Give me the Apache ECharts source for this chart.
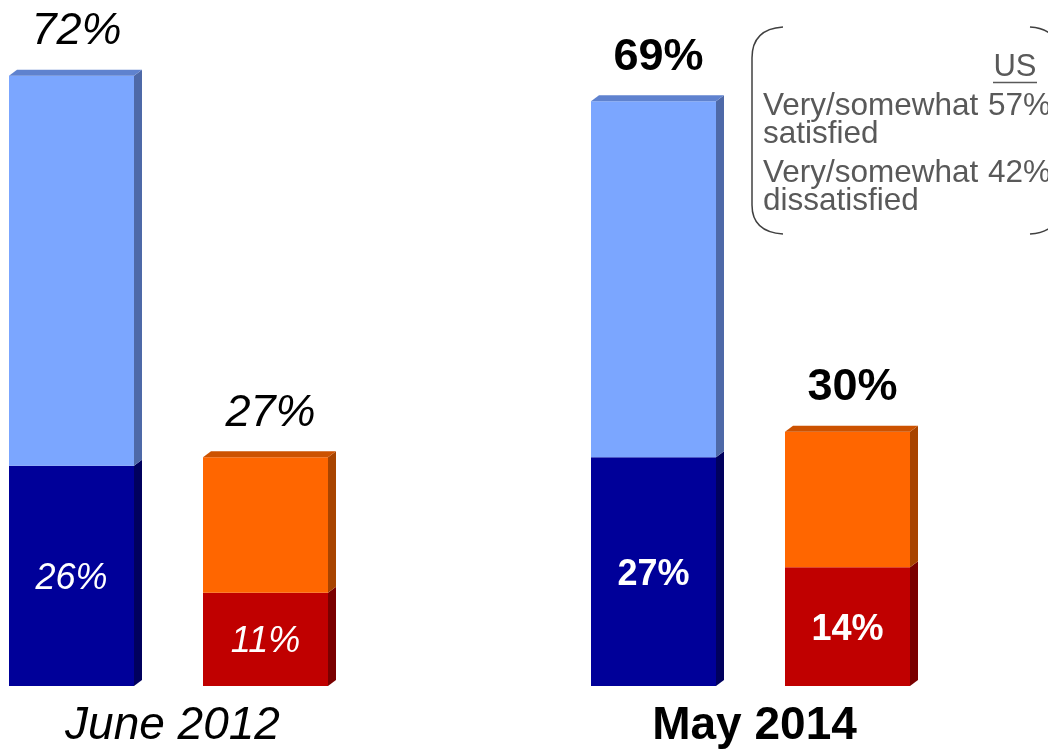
<!DOCTYPE html>
<html><head><meta charset="utf-8">
<script src="https://cdn.jsdelivr.net/npm/echarts@6/dist/echarts.min.js"></script>
<style>html,body{margin:0;padding:0;background:#fff}#c{width:1048px;height:750px}</style>
</head><body><div id="c"></div>
<script>
// ---- data ----
const categories = ['June 2012 satisfied', 'June 2012 dissatisfied', '', 'May 2014 satisfied', 'May 2014 dissatisfied'];
const totals = [72, 27, null, 69, 30];          // very + somewhat
const strong = [26, 11, null, 27, 14];          // "very" part (bottom segment)
const kinds = ['sat', 'dis', null, 'sat', 'dis'];
const groupOf = [0, 0, null, 1, 1];
const groupLabels = ['June 2012', 'May 2014'];
const usLabels = ['Very/somewhat\nsatisfied', 'Very/somewhat\ndissatisfied'];
const usValues = ['57%', '42%'];

// ---- styles ----
const colors = {
  sat: { top: { front: '#7BA6FF', side: '#4E69A8', cap: '#5F82CF' }, bottom: { front: '#000099', side: '#00005E' } },
  dis: { top: { front: '#FF6600', side: '#A84400', cap: '#CC5200' }, bottom: { front: '#C00000', side: '#7A0000' } }
};
const groupFont = [{ fontStyle: 'italic', fontWeight: 'normal' }, { fontStyle: 'normal', fontWeight: 'bold' }];
const FONT = 'Liberation Sans, Arial, sans-serif';
const BAR_W = 125, DX = 8, DY = 6;

function build(layer) {
  const d = [];
  categories.forEach((c, i) => {
    if (totals[i] == null) return;
    if (layer === 0) d.push([i, 0, strong[i]]);
    else d.push([i, strong[i], totals[i]]);
  });
  return d;
}

function renderer(layer) {
  return function (params, api) {
    const idx = api.value(0), lo = api.value(1), hi = api.value(2);
    const pLo = api.coord([idx, lo]), pHi = api.coord([idx, hi]);
    const x0 = pLo[0] - BAR_W / 2, x1 = x0 + BAR_W;
    const yT = pHi[1], yB = pLo[1];
    const k = kinds[idx];
    const col = colors[k][layer === 0 ? 'bottom' : 'top'];
    const g = groupFont[groupOf[idx]];
    const children = [
      { type: 'polygon', shape: { points: [[x1, yB], [x1 + DX, yB - DY], [x1 + DX, yT - DY], [x1, yT]] }, style: { fill: col.side } },
      { type: 'rect', shape: { x: x0, y: yT, width: BAR_W, height: yB - yT }, style: { fill: col.front } }
    ];
    if (layer === 1) {
      children.push({ type: 'polygon', shape: { points: [[x0, yT], [x0 + DX, yT - DY], [x1 + DX, yT - DY], [x1, yT]] }, style: { fill: col.cap } });
      children.push({ type: 'text', style: { text: totals[idx] + '%', x: pLo[0] + 5, y: yT - 44, align: 'center', verticalAlign: 'middle',
        fill: '#000', font: g.fontStyle + ' ' + g.fontWeight + ' 45px ' + FONT } });
    } else {
      children.push({ type: 'text', style: { text: strong[idx] + '%', x: pLo[0], y: (yT + yB) / 2 + 3, align: 'center', verticalAlign: 'middle',
        fill: '#fff', font: g.fontStyle + ' ' + g.fontWeight + ' 36px ' + FONT } });
    }
    return { type: 'group', children };
  };
}

const chart = echarts.init(document.getElementById('c'));
chart.setOption({
  animation: false,
  grid: { left: 71.5, right: 200.5, top: 8, bottom: 64 },
  xAxis: { type: 'category', data: categories, boundaryGap: false, show: false },
  yAxis: { type: 'value', min: 0, max: 80, show: false },
  series: [
    { type: 'custom', renderItem: renderer(0), data: build(0), encode: { x: 0, y: [1, 2] } },
    { type: 'custom', renderItem: renderer(1), data: build(1), encode: { x: 0, y: [1, 2] } }
  ]
});

// group labels under each pair of bars
const gl = [];
groupLabels.forEach((lab, gi) => {
  const idxs = categories.map((c, i) => i).filter(i => groupOf[i] === gi);
  const xs = idxs.map(i => chart.convertToPixel({ gridIndex: 0 }, [i, 0])[0]);
  const cx = (xs[0] + xs[xs.length - 1]) / 2 + 4;
  const f = groupFont[gi];
  gl.push({ type: 'text', x: cx, y: 726, style: { text: lab, align: 'center', verticalAlign: 'middle', fill: '#000',
    font: f.fontStyle + ' ' + f.fontWeight + ' 46px ' + FONT } });
});

// US comparison box (two rounded brackets)
const bs = { fill: null, stroke: '#404040', lineWidth: 1.5 };
const box = [
  { type: 'bezierCurve', shape: { x1: 783, y1: 27, cpx1: 752, cpy1: 29, x2: 752, y2: 58 }, style: bs },
  { type: 'line', shape: { x1: 752, y1: 58, x2: 752, y2: 205 }, style: bs },
  { type: 'bezierCurve', shape: { x1: 752, y1: 205, cpx1: 752, cpy1: 232, x2: 783, y2: 234 }, style: bs },
  { type: 'bezierCurve', shape: { x1: 1030, y1: 27, cpx1: 1060, cpy1: 29, x2: 1060, y2: 58 }, style: bs },
  { type: 'line', shape: { x1: 1060, y1: 58, x2: 1060, y2: 205 }, style: bs },
  { type: 'bezierCurve', shape: { x1: 1060, y1: 205, cpx1: 1060, cpy1: 232, x2: 1030, y2: 234 }, style: bs },
  { type: 'text', x: 1015, y: 67, style: { text: 'US', align: 'center', verticalAlign: 'middle', fill: '#595959', font: 'normal 31px ' + FONT } },
  { type: 'line', shape: { x1: 993, y1: 82.5, x2: 1037, y2: 82.5 }, style: { stroke: '#595959', lineWidth: 1.5 } }
];
usLabels.forEach((t, i) => {
  const top = 92 + i * 67;
  box.push({ type: 'text', x: 763, y: top, style: { text: t, fill: '#595959', font: 'normal 31.5px ' + FONT, lineHeight: 28, verticalAlign: 'top' } });
  box.push({ type: 'text', x: 988, y: top, style: { text: usValues[i], fill: '#595959', font: 'normal 31.5px ' + FONT, lineHeight: 28, verticalAlign: 'top' } });
});

chart.setOption({ graphic: gl.concat(box) });
</script></body></html>
